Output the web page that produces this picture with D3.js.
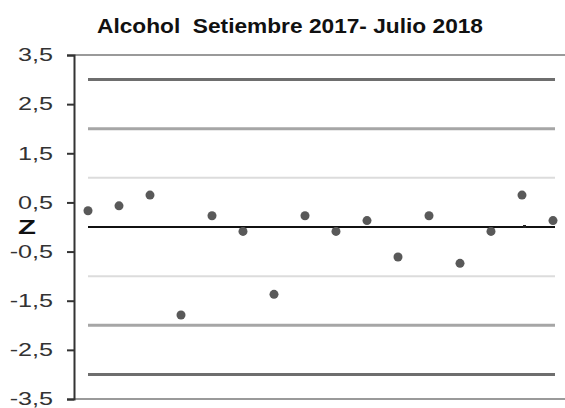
<!DOCTYPE html>
<html>
<head>
<meta charset="utf-8">
<script src="https://cdn.jsdelivr.net/npm/d3@7"></script>
<style>
  body { margin: 0; background: #fff; }
  text { font-family: "Liberation Sans", Arial, sans-serif; }
</style>
</head>
<body>
<div id="chart"></div>
<script>
// Alcohol control chart (Z scores)

let months = d3.range(16);
let zValues = [0.33, 0.43, 0.65, -1.79, 0.23, -0.09, -1.37, 0.23, -0.09, 0.13, -0.61, 0.23, -0.74, -0.09, 0.65, 0.13];
let extraPoint = [{i: 14, v: 0}];
let refLines = [3, 2, 1, 0, -1, -2, -3];
let yTicks = [3.5, 2.5, 1.5, 0.5, -0.5, -1.5, -2.5, -3.5];
let title = "Alcohol  Setiembre 2017- Julio 2018";

let width = 565, height = 408;
let stretch = 1.4; // text in the source is wide

let svg = d3.select("#chart").append("svg")
    .attr("width", width)
    .attr("height", height);

// scales
let x = d3.scaleLinear()
    .domain([0, 15])
    .range([88, 553]);

let y = d3.scaleLinear()
    .domain([-3.5, 3.5])
    .range([399, 55]);

// line styles by level
let lineColor = d => {
    if (d === 0) return "#111";
    if (Math.abs(d) === 3) return "#6e6e6e";
    if (Math.abs(d) === 2) return "#a6a6a6";
    return "#dcdcdc";
};
let lineWidth = d => d === 0 ? 2 : (Math.abs(d) === 1 ? 2 : 3);

// frame top / bottom
svg.selectAll("line.frame")
    .data([3.5, -3.5])
    .enter().append("line")
    .attr("class", "frame")
    .attr("x1", 74).attr("x2", width)
    .attr("y1", d => y(d)).attr("y2", d => y(d))
    .attr("stroke", "#9a9a9a")
    .attr("stroke-width", 2);

// reference lines
svg.selectAll("line.ref")
    .data(refLines)
    .enter().append("line")
    .attr("class", "ref")
    .attr("x1", x(0)).attr("x2", x(15) + 2)
    .attr("y1", d => y(d)).attr("y2", d => y(d))
    .attr("stroke", lineColor)
    .attr("stroke-width", lineWidth);

// y axis
let yAxis = d3.axisLeft(y)
    .tickValues(yTicks)
    .tickSize(7)
    .tickPadding(14)
    .tickFormat(d => d3.format(".1f")(d).replace(".", ",").replace("−", "-"));

let gy = svg.append("g")
    .attr("class", "axis y-axis")
    .attr("transform", "translate(74,0)")
    .call(yAxis);

gy.select(".domain").attr("stroke", "#333").attr("stroke-width", 2);
gy.selectAll(".tick line").attr("stroke", "#333").attr("stroke-width", 2);
gy.selectAll(".tick text")
    .attr("fill", "#333")
    .attr("x", -21 / stretch)
    .attr("transform", `scale(${stretch},1)`)
    .style("font-size", "18px");

// points
svg.selectAll("circle.pt")
    .data(months)
    .enter().append("circle")
    .attr("class", "pt")
    .attr("cx", d => x(d))
    .attr("cy", d => y(zValues[d]))
    .attr("r", 4.5)
    .attr("fill", "#595959");

svg.selectAll("rect.small")
    .data(extraPoint)
    .enter().append("rect")
    .attr("class", "small")
    .attr("x", d => x(d.i) + 1)
    .attr("y", d => y(d.v) - 2)
    .attr("width", 3)
    .attr("height", 3)
    .attr("fill", "#222");

// title
svg.append("text")
    .attr("x", 97)
    .attr("y", 33)
    .attr("xml:space", "preserve")
    .style("white-space", "pre")
    .attr("textLength", 386)
    .attr("lengthAdjust", "spacingAndGlyphs")
    .style("font-size", "20px")
    .style("font-weight", "bold")
    .attr("fill", "#111")
    .text(title);

// Z label
svg.append("text")
    .attr("transform", `translate(27,234) scale(${stretch},1)`)
    .attr("text-anchor", "middle")
    .style("font-size", "21px")
    .style("font-weight", "bold")
    .attr("fill", "#111")
    .text("Z");
</script>
</body>
</html>
